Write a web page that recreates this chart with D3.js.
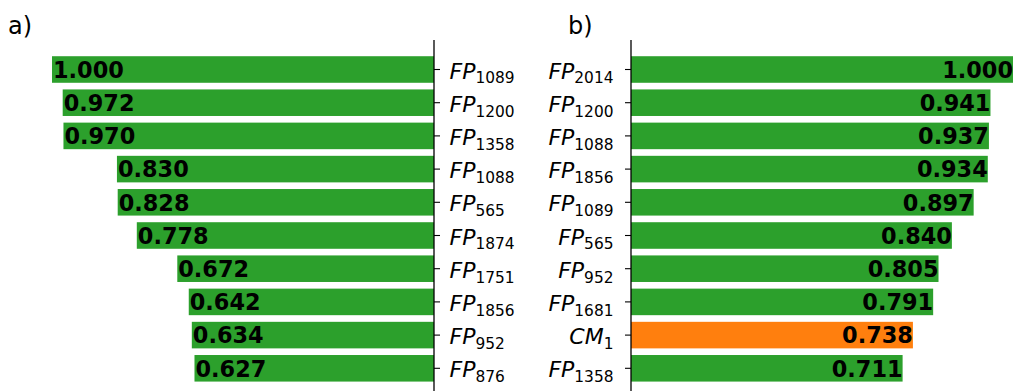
<!DOCTYPE html>
<html>
<head>
<meta charset="utf-8">
<script src="https://cdn.jsdelivr.net/npm/d3@7"></script>
<style>
  html, body { margin: 0; padding: 0; background: #fff; }
  svg { display: block; font-family: "DejaVu Sans", sans-serif; }
</style>
</head>
<body>
<svg id="chart" width="1013" height="391"></svg>
<script>
// Panel a: features ranked by score
const prefixA = ["FP", "FP", "FP", "FP", "FP", "FP", "FP", "FP", "FP", "FP"];
const subA = ["1089", "1200", "1358", "1088", "565", "1874", "1751", "1856", "952", "876"];
const valuesA = [1.000, 0.972, 0.970, 0.830, 0.828, 0.778, 0.672, 0.642, 0.634, 0.627];

// Panel b: features ranked by score (CM_1 highlighted)
const prefixB = ["FP", "FP", "FP", "FP", "FP", "FP", "FP", "FP", "CM", "FP"];
const subB = ["2014", "1200", "1088", "1856", "1089", "565", "952", "1681", "1", "1358"];
const valuesB = [1.000, 0.941, 0.937, 0.934, 0.897, 0.840, 0.805, 0.791, 0.738, 0.711];

const GREEN = "#2ca02c", ORANGE = "#ff7f0e";
const svg = d3.select("#chart");

function panel(opts) {
  const { prefix, sub, values, xRange, spineX, side, title, titleX, colorOf } = opts;
  const idx = d3.range(values.length);
  const x = d3.scaleLinear().domain([0, 1]).range(xRange);
  const y = d3.scaleBand().domain(idx).range([52.9, 384.9]).paddingInner(0.2).paddingOuter(0.1);
  const g = svg.append("g");

  // bars
  g.selectAll("rect").data(idx).join("rect")
    .attr("x", i => Math.min(x(0), x(values[i])))
    .attr("width", i => Math.abs(x(values[i]) - x(0)))
    .attr("y", i => y(i))
    .attr("height", y.bandwidth())
    .attr("fill", i => colorOf(i));

  // value labels at the bar ends
  g.selectAll("text.val").data(idx).join("text")
    .attr("class", "val")
    .attr("x", i => x(values[i]) + (side === "left" ? 1 : 0))
    .attr("y", i => y(i) + y.bandwidth() / 2 + 8.3)
    .attr("text-anchor", side === "left" ? "start" : "end")
    .attr("font-weight", "bold")
    .attr("font-size", 22.4)
    .attr("fill", "#000")
    .text(i => values[i].toFixed(3));

  // spine
  g.append("line")
    .attr("x1", spineX).attr("x2", spineX)
    .attr("y1", 40).attr("y2", 400)
    .attr("stroke", "#000").attr("stroke-width", 1.3);

  // ticks and category labels
  const dir = side === "left" ? 1 : -1;
  const ticks = g.selectAll("g.tick").data(idx).join("g")
    .attr("class", "tick")
    .attr("transform", i => `translate(${spineX},${y(i) + y.bandwidth() / 2})`);
  ticks.append("line")
    .attr("x1", 0).attr("x2", dir * 6)
    .attr("stroke", "#000").attr("stroke-width", 1.1);
  const lab = ticks.append("text")
    .attr("x", dir * (side === "left" ? 15.5 : 17.5))
    .attr("y", 9)
    .attr("text-anchor", side === "left" ? "start" : "end")
    .attr("fill", "#000");
  lab.append("tspan")
    .attr("font-style", "italic")
    .attr("font-size", 22)
    .text(i => prefix[i]);
  lab.append("tspan")
    .attr("font-size", 15.4)
    .attr("dy", 4.8)
    .text(i => sub[i]);

  // panel title
  svg.append("text")
    .attr("x", titleX).attr("y", 34)
    .attr("font-size", 24)
    .attr("fill", "#000")
    .text(title);
}

panel({
  prefix: prefixA, sub: subA, values: valuesA,
  xRange: [434, 52], spineX: 434, side: "left",
  title: "a)", titleX: 8, colorOf: () => GREEN
});

panel({
  prefix: prefixB, sub: subB, values: valuesB,
  xRange: [631, 1013], spineX: 631, side: "right",
  title: "b)", titleX: 568, colorOf: i => prefixB[i] === "CM" ? ORANGE : GREEN
});
</script>
</body>
</html>
